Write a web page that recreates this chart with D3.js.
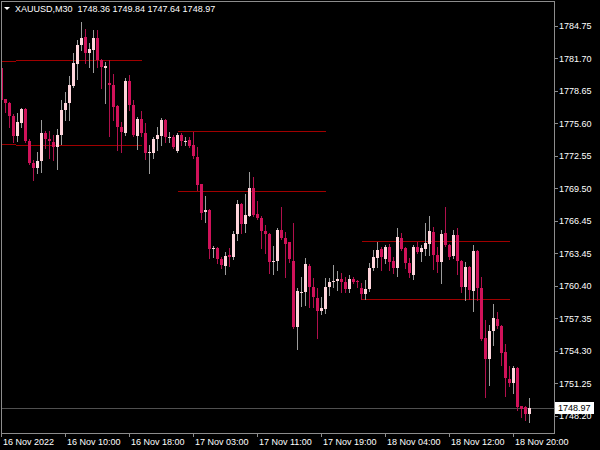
<!DOCTYPE html>
<html><head><meta charset="utf-8">
<script src="https://cdn.jsdelivr.net/npm/d3@7"></script>
<style>html,body{margin:0;padding:0;background:#000;overflow:hidden}svg{display:block}</style>
</head><body>
<svg id="c" width="600" height="450"></svg>
<script>
// ---- data (XAUUSD M30, 133 bars) ----
const opens = [1780.77,1777.84,1777.47,1776.30,1774.43,1775.65,1776.93,1773.94,1771.85,1771.38,
1772.02,1774.71,1774.09,1773.84,1773.40,1774.47,1776.84,1777.52,1779.11,1781.12,
1782.92,1783.67,1782.20,1782.46,1783.55,1781.49,1780.80,1779.39,1779.18,1777.18,
1775.27,1774.71,1779.60,1777.31,1774.43,1776.00,1774.66,1772.78,1772.84,1774.12,
1774.43,1775.90,1774.24,1774.34,1773.00,1774.50,1773.84,1774.03,1773.56,1772.47,
1769.88,1767.26,1767.47,1763.80,1763.94,1762.86,1762.26,1763.26,1763.07,1765.23,
1768.04,1766.16,1766.94,1769.51,1767.07,1766.77,1765.51,1765.23,1762.58,1762.73,
1765.60,1764.88,1764.45,1762.73,1756.55,1759.77,1759.77,1762.26,1760.24,1759.26,
1758.05,1758.21,1760.24,1760.71,1760.86,1761.01,1760.76,1760.05,1760.99,1760.86,
1760.14,1759.58,1760.05,1762.02,1762.95,1763.82,1762.86,1764.04,1762.70,1762.07,
1764.83,1763.89,1762.54,1761.39,1764.04,1763.57,1763.80,1764.26,1765.44,1763.26,
1762.63,1765.29,1764.20,1763.17,1765.13,1762.70,1760.29,1762.17,1759.92,1763.66,
1760.20,1755.46,1753.50,1756.15,1757.27,1756.61,1754.21,1751.65,1751.30,1752.71,
1749.12,1749.00,1748.36];
const highs = [1780.86,1777.87,1777.59,1776.46,1776.56,1777.03,1777.03,1774.12,1772.16,1772.93,
1775.90,1774.90,1774.87,1774.50,1775.06,1777.77,1778.52,1779.98,1782.20,1783.39,
1785.08,1784.42,1783.11,1784.33,1784.33,1781.59,1781.36,1781.52,1780.21,1777.31,
1775.74,1779.81,1780.12,1777.77,1776.18,1776.74,1775.65,1773.56,1774.34,1775.27,
1776.06,1776.00,1774.75,1774.50,1774.66,1774.66,1774.28,1774.34,1774.81,1773.40,
1769.94,1768.76,1767.57,1764.10,1764.04,1763.10,1763.57,1763.92,1765.51,1768.41,
1768.13,1769.00,1771.03,1770.54,1768.36,1766.87,1766.07,1765.32,1764.10,1765.76,
1767.73,1765.44,1764.51,1766.23,1760.14,1761.23,1763.01,1762.42,1761.08,1760.14,
1759.36,1761.08,1761.08,1762.33,1761.79,1761.60,1761.23,1761.39,1761.17,1760.92,
1760.67,1760.92,1762.48,1763.73,1764.51,1763.98,1764.20,1764.29,1763.10,1765.76,
1765.29,1764.04,1762.95,1764.20,1764.51,1764.20,1766.29,1766.91,1765.86,1764.04,
1765.60,1767.73,1764.29,1765.60,1765.76,1762.79,1762.63,1762.28,1764.20,1763.73,
1761.17,1757.18,1756.71,1758.67,1757.90,1756.71,1754.93,1752.87,1752.90,1752.77,
1749.17,1749.12,1749.84];
const lows = [1777.68,1776.65,1775.25,1773.84,1773.96,1775.27,1773.84,1771.78,1770.28,1770.91,
1770.99,1773.25,1772.34,1772.16,1771.27,1773.65,1775.90,1775.90,1778.99,1779.74,
1782.46,1781.21,1780.86,1780.40,1780.89,1778.87,1777.47,1774.40,1775.90,1773.09,
1772.93,1774.54,1776.84,1774.40,1773.19,1774.40,1772.22,1770.91,1772.32,1773.09,
1773.56,1773.87,1773.81,1773.25,1772.88,1773.56,1773.56,1773.40,1772.32,1769.35,
1766.63,1766.38,1762.95,1763.05,1762.51,1762.02,1761.45,1762.23,1762.89,1764.64,
1765.37,1765.44,1766.87,1766.91,1766.63,1763.92,1763.42,1761.60,1761.48,1761.86,
1764.76,1761.20,1762.61,1756.43,1754.43,1758.49,1758.58,1758.42,1758.42,1755.46,
1757.71,1757.80,1759.52,1760.24,1759.98,1759.83,1759.83,1759.83,1760.61,1760.24,
1759.11,1759.14,1759.92,1761.86,1762.17,1761.86,1762.54,1761.86,1761.60,1761.29,
1763.73,1762.02,1761.17,1761.06,1763.45,1762.73,1763.26,1763.26,1761.95,1761.70,
1760.67,1764.10,1762.86,1762.98,1761.48,1759.83,1759.05,1759.11,1758.05,1759.05,
1755.30,1749.94,1751.09,1754.84,1756.43,1752.96,1750.06,1751.00,1750.37,1748.75,
1748.07,1747.81,1747.64];
const closes = [1777.77,1777.47,1776.30,1774.43,1775.69,1776.90,1773.94,1771.85,1771.38,1772.02,
1774.66,1774.09,1773.96,1773.40,1774.47,1776.84,1777.52,1779.18,1781.21,1782.92,
1783.55,1782.20,1782.52,1783.55,1781.52,1780.89,1780.96,1779.21,1777.15,1775.25,
1774.81,1779.60,1777.31,1774.50,1776.00,1774.66,1772.84,1772.93,1774.12,1774.50,
1775.90,1774.28,1774.34,1773.40,1774.50,1773.96,1773.94,1773.47,1772.53,1769.82,
1767.22,1767.47,1763.80,1763.94,1762.89,1762.33,1763.17,1763.05,1765.23,1768.04,
1766.16,1767.01,1769.51,1767.01,1766.77,1765.51,1765.20,1762.58,1762.73,1765.60,
1764.83,1764.26,1762.89,1756.55,1759.92,1759.83,1762.42,1760.24,1759.30,1758.05,
1758.27,1760.24,1760.71,1760.86,1761.01,1760.76,1760.05,1760.99,1760.76,1760.71,
1759.61,1760.08,1762.02,1763.05,1763.73,1763.05,1763.98,1762.63,1762.07,1764.92,
1763.82,1762.51,1761.55,1764.04,1763.54,1763.89,1764.41,1765.54,1763.26,1762.63,
1765.23,1764.20,1763.10,1765.13,1762.70,1760.29,1762.17,1759.98,1763.66,1760.20,
1755.37,1753.50,1756.15,1757.39,1756.61,1754.11,1751.72,1751.25,1752.71,1749.00,
1748.81,1748.35,1748.97];

const symbolLabel = "XAUUSD,M30";
const lastPrice = 1748.97;
const yTickValues = [1784.75,1781.70,1778.65,1775.60,1772.55,1769.50,1766.45,1763.45,1760.40,1757.35,1754.30,1751.25,1748.20];
const yTickLabels = ["1784.75","1781.70","1778.65","1775.60","1772.55","1769.50","1766.45","1763.45","1760.40","1757.35","1754.30","1751.25","1748.20"];
const xTickLabels = ["16 Nov 2022","16 Nov 10:00","16 Nov 18:00","17 Nov 03:00","17 Nov 11:00","17 Nov 19:00","18 Nov 04:00","18 Nov 12:00","18 Nov 20:00"];
const xTickBars = [0,16,32,48,64,80,96,112,128];
// horizontal level lines: price, from bar, to bar
const levelPrices = [1781.43,1781.49,1773.63,1773.53,1774.84,1769.30,1764.54,1759.11];
const levelFrom   = [-1,3.6,-1,3.6,44,44,90,90];
const levelTo     = [3.6,35,3.6,35,81,81,127,127];

// ---- drawing ----
const W = 600, H = 450;
const plotRight = 554, plotBottom = 433;
const svg = d3.select("#c");
svg.append("rect").attr("width",W).attr("height",H).attr("fill","#000");

const x = d3.scaleLinear().domain([0, opens.length - 1]).range([1.5, 1.5 + 4*(opens.length-1)]);
const y = d3.scaleLinear().domain([1748.20, 1784.75]).range([415.9, 25.5]);

const FONT = "'Liberation Sans', Arial, sans-serif";
const upBody = "#FFD5DC", downBody = "#D0125A", upWick = "#9C9C9C", downWick = "#B0104C";
const levelColor = "#A00000", frameColor = "#8C8C8C";

const plot = svg.append("g");
svg.append("clipPath").attr("id","clip").append("rect")
  .attr("x",1).attr("y",1).attr("width",plotRight-1).attr("height",plotBottom-1);
plot.attr("clip-path","url(#clip)");

// frame
svg.append("path")
  .attr("d", `M1.5,${plotBottom+0.5}V1.5H${plotRight+0.5}V${plotBottom+0.5}H1.5`)
  .attr("fill","none").attr("stroke",frameColor).attr("stroke-width",1)
  .attr("shape-rendering","crispEdges");

// current price line
plot.append("line")
  .attr("x1",1).attr("x2",plotRight)
  .attr("y1",Math.round(y(lastPrice))+0.5).attr("y2",Math.round(y(lastPrice))+0.5)
  .attr("stroke","#505050").attr("stroke-width",1).attr("shape-rendering","crispEdges");

// level lines
plot.selectAll("line.lvl").data(levelPrices).join("line").attr("class","lvl")
  .attr("x1",(d,i)=>x(levelFrom[i])).attr("x2",(d,i)=>x(levelTo[i]))
  .attr("y1",d=>Math.round(y(d))+0.5).attr("y2",d=>Math.round(y(d))+0.5)
  .attr("stroke",levelColor).attr("stroke-width",1).attr("shape-rendering","crispEdges");

// candles
const bars = opens.map((o,i)=>({i, o, h:highs[i], l:lows[i], c:closes[i]}));
const g = plot.append("g").attr("shape-rendering","crispEdges");
g.selectAll("line.wick").data(bars).join("line").attr("class","wick")
  .attr("x1",d=>Math.floor(x(d.i))+0.5).attr("x2",d=>Math.floor(x(d.i))+0.5)
  .attr("y1",d=>Math.round(y(d.h))).attr("y2",d=>Math.round(y(d.l))+1)
  .attr("stroke",d=>d.c>=d.o?upWick:downWick).attr("stroke-width",1);
g.selectAll("rect.body").data(bars).join("rect").attr("class","body")
  .attr("x",d=>Math.floor(x(d.i))-1).attr("width",3)
  .attr("y",d=>Math.round(y(Math.max(d.o,d.c))))
  .attr("height",d=>Math.max(1, Math.round(y(Math.min(d.o,d.c))) - Math.round(y(Math.max(d.o,d.c)))))
  .attr("fill",d=>d.c>=d.o?upBody:downBody);

// y axis ticks + labels
const ya = svg.append("g");
ya.selectAll("line").data(yTickValues).join("line")
  .attr("x1",plotRight).attr("x2",plotRight+4)
  .attr("y1",d=>Math.round(y(d))+0.5).attr("y2",d=>Math.round(y(d))+0.5)
  .attr("stroke",frameColor).attr("shape-rendering","crispEdges");
ya.selectAll("text").data(yTickValues).join("text")
  .attr("x",plotRight+5).attr("y",d=>y(d)+3.5)
  .attr("fill","#fff").attr("font-family",FONT).attr("font-size",9)
  .text((d,i)=>yTickLabels[i]);

// x axis ticks + labels
const xa = svg.append("g");
xa.selectAll("line").data(xTickBars).join("line")
  .attr("x1",d=>Math.floor(x(d))+0.5).attr("x2",d=>Math.floor(x(d))+0.5)
  .attr("y1",plotBottom).attr("y2",plotBottom+4)
  .attr("stroke",frameColor).attr("shape-rendering","crispEdges");
xa.selectAll("text").data(xTickBars).join("text")
  .attr("x",d=>Math.floor(x(d))+2).attr("y",445)
  .attr("fill","#fff").attr("font-family",FONT).attr("font-size",9)
  .text((d,i)=>xTickLabels[i]);

// current price tag
const py = y(lastPrice);
svg.append("rect").attr("x",plotRight+1).attr("y",Math.round(py)-6).attr("width",39).attr("height",12)
  .attr("fill","#fff");
svg.append("text").attr("x",plotRight+4).attr("y",py+3.5)
  .attr("fill","#000").attr("font-family",FONT).attr("font-size",9).text(d3.format(".2f")(lastPrice));

// header
svg.append("path").attr("d","M4,7L10,7L7,10Z").attr("fill","#fff");
svg.append("text").attr("x",15).attr("y",12).attr("fill","#fff")
  .attr("font-family",FONT).attr("font-size",9).attr("xml:space","preserve")
  .text(`${symbolLabel}  ${d3.format(".2f")(opens[opens.length-1])} ${d3.format(".2f")(highs[highs.length-1])} ${d3.format(".2f")(lows[lows.length-1])} ${d3.format(".2f")(closes[closes.length-1])}`);
</script>
</body></html>
